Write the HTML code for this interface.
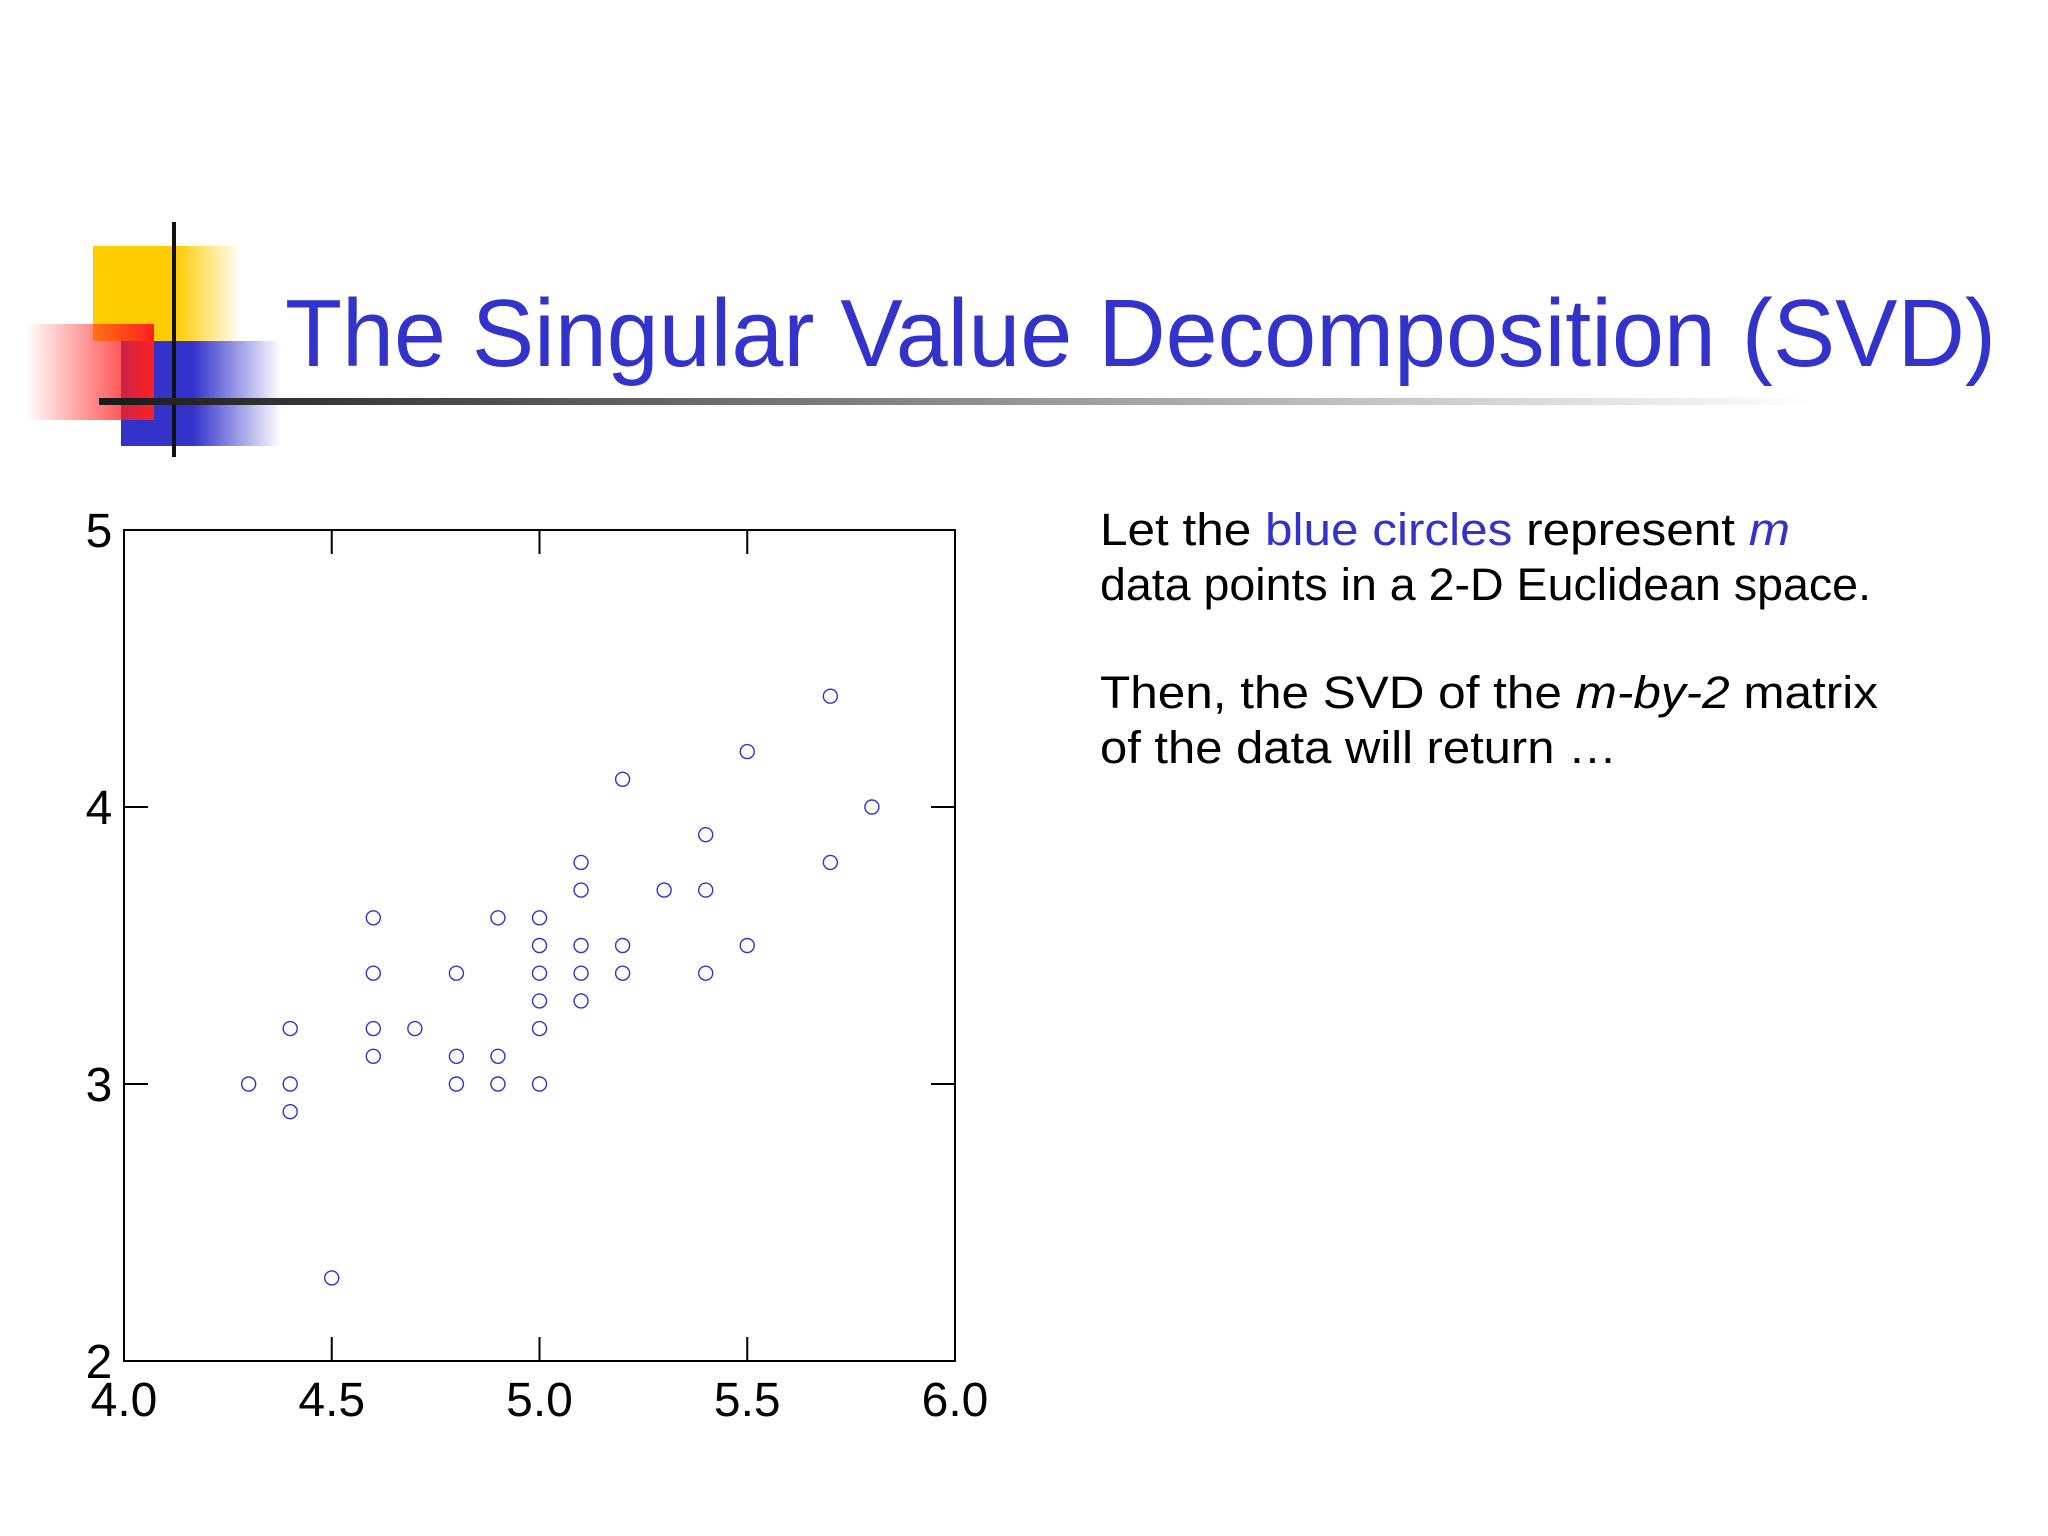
<!DOCTYPE html>
<html><head><meta charset="utf-8"><style>
html,body{margin:0;padding:0;background:#fff;}
svg{display:block;}
</style></head><body>
<svg id="slide" width="2048" height="1536" viewBox="0 0 2048 1536" xmlns="http://www.w3.org/2000/svg">
<defs>
<linearGradient id="yel" x1="0" x2="1"><stop offset="0.55" stop-color="#ffcc00"/><stop offset="1" stop-color="#ffcc00" stop-opacity="0"/></linearGradient>
<linearGradient id="red" x1="1" x2="0"><stop offset="0" stop-color="#ff2020"/><stop offset="1" stop-color="#ff2020" stop-opacity="0"/></linearGradient>
<linearGradient id="blu" x1="0" x2="1"><stop offset="0.45" stop-color="#3333cc"/><stop offset="1" stop-color="#3333cc" stop-opacity="0"/></linearGradient>
<linearGradient id="rule" x1="0" x2="1"><stop offset="0" stop-color="#1a1a1a"/><stop offset="1" stop-color="#ffffff"/></linearGradient>
</defs>
<g>
<rect x="93" y="246" width="149" height="95" fill="url(#yel)"/>
<rect x="121" y="341" width="160" height="105" fill="url(#blu)"/>
<rect x="26" y="324" width="128" height="96" fill="url(#red)"/>
<rect x="172" y="222" width="4" height="235" fill="#111"/>
<rect x="99" y="398" width="1716" height="7" fill="url(#rule)"/>
</g>
<text x="285" y="366" font-family="Liberation Sans, sans-serif" font-size="96" fill="#3333cc" textLength="1711" lengthAdjust="spacingAndGlyphs">The Singular Value Decomposition (SVD)</text>
<g font-family="Liberation Sans, sans-serif" font-size="45" fill="#000">
<text x="1100" y="545" textLength="690" lengthAdjust="spacingAndGlyphs">Let the <tspan fill="#3333cc">blue circles</tspan> represent <tspan fill="#3333cc" font-style="italic">m</tspan></text>
<text x="1100" y="600" textLength="771" lengthAdjust="spacingAndGlyphs">data points in a 2-D Euclidean space.</text>
<text x="1100" y="708" textLength="778" lengthAdjust="spacingAndGlyphs">Then, the SVD of the <tspan font-style="italic">m-by-2</tspan> matrix</text>
<text x="1100" y="763" textLength="517" lengthAdjust="spacingAndGlyphs">of the data will return …</text>
</g>
<g id="chart"></g>
</svg>
<script>
const xs = [4.3,4.4,4.4,4.4,4.5,4.6,4.6,4.6,4.6,4.7,4.8,4.8,4.8,4.9,4.9,4.9,5.0,5.0,5.0,5.0,5.0,5.0,5.1,5.1,5.1,5.1,5.1,5.2,5.2,5.2,5.3,5.4,5.4,5.4,5.5,5.5,5.7,5.7,5.8];
const ys = [3.0,3.2,3.0,2.9,2.3,3.6,3.4,3.2,3.1,3.2,3.4,3.1,3.0,3.6,3.1,3.0,3.6,3.5,3.4,3.3,3.2,3.0,3.8,3.7,3.5,3.4,3.3,4.1,3.5,3.4,3.7,3.9,3.7,3.4,4.2,3.5,4.4,3.8,4.0];
const xTicks = [4.0,4.5,5.0,5.5,6.0];
const xTickLabels = ["4.0","4.5","5.0","5.5","6.0"];
const yTicks = [2,3,4,5];
const yTickLabels = ["2","3","4","5"];
const NS="http://www.w3.org/2000/svg";
const L=124,R=955,T=530,B=1361;
const sx=v=>L+(v-4)/(6-4)*(R-L);
const sy=v=>B-(v-2)/(5-2)*(B-T);
const g=document.getElementById('chart');
function mk(t,a){const e=document.createElementNS(NS,t);for(const k in a)e.setAttribute(k,a[k]);g.appendChild(e);return e;}
const frame=mk('rect',{x:L,y:T,width:R-L,height:B-T,fill:'none',stroke:'#000','stroke-width':2});


xTicks.forEach((v,i)=>{
  if(i>0&&i<xTicks.length-1){
    const t1=mk('line',{x1:sx(v),x2:sx(v),y1:B,y2:B-24,stroke:'#000','stroke-width':2});
    
    
    const t2=mk('line',{x1:sx(v),x2:sx(v),y1:T,y2:T+24,stroke:'#000','stroke-width':2});
    
    
  }
  const lb=mk('text',{x:sx(v),y:B+55,'text-anchor':'middle','font-family':'Liberation Sans, sans-serif','font-size':48,fill:'#000'});
  lb.textContent=xTickLabels[i];
  
  
});
yTicks.forEach((v,i)=>{
  if(i>0&&i<yTicks.length-1){
    const t1=mk('line',{x1:L,x2:L+24,y1:sy(v),y2:sy(v),stroke:'#000','stroke-width':2});
    
    
    const t2=mk('line',{x1:R,x2:R-24,y1:sy(v),y2:sy(v),stroke:'#000','stroke-width':2});
    
    
  }
  const lb=mk('text',{x:L-25,y:sy(v)+17,'text-anchor':'middle','font-family':'Liberation Sans, sans-serif','font-size':48,fill:'#000'});
  lb.textContent=yTickLabels[i];
  
  
});
xs.forEach((x,i)=>{
  const c=mk('circle',{cx:sx(x),cy:sy(ys[i]),r:7,fill:'none',stroke:'#3333cc','stroke-width':1.4});
  
  
});
</script>
</body></html>
